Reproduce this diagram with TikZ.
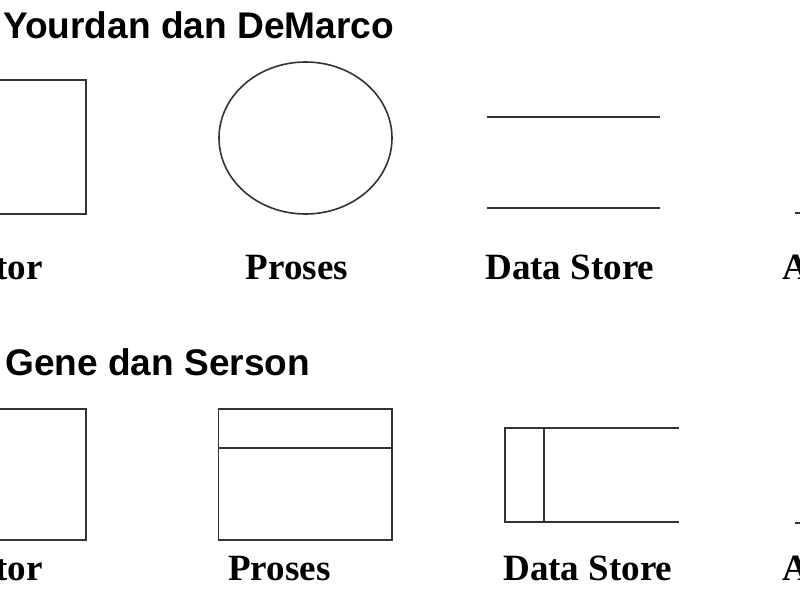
\documentclass[tikz,border=0pt]{standalone}
\usepackage{fontspec}
\setmainfont{Liberation Serif}
\newfontfamily\titlefont{Liberation Sans}
\usetikzlibrary{shapes.geometric}
\tikzset{
  shape line/.style={draw=black!80, line width=1.2pt},
  title/.style={font=\titlefont\bfseries\fontsize{27.8}{32}\selectfont, inner sep=0pt, anchor=base west},
  label text/.style={font=\bfseries\fontsize{27.8}{32}\selectfont, inner sep=0pt},
}
\begin{document}
\begin{tikzpicture}[x=0.75pt,y=-0.75pt]
\useasboundingbox (0,0) rectangle (800,600);
\clip (0,0) rectangle (800,600);
\fill[white] (0,0) rectangle (800,600);

% --- Yourdan dan DeMarco ---
\node[title] (t1) at (3,38) {Yourdan dan DeMarco};
\draw[shape line] (-60,80) rectangle (86,214);
\node[label text, anchor=base east] (term1) at (43,279) {Terminator};
\draw[shape line] (305.5,138) ellipse [x radius=86.5, y radius=76];
\node[label text, anchor=base west] (proc1) at (245.5,279) {Proses};
\draw[shape line] (487,117) -- (660,117);
\draw[shape line] (487,208) -- (660,208);
\node[label text, anchor=base west] (ds1) at (485,279) {Data Store};
\coordinate (a1s) at (795,213);
\coordinate (a1e) at (960,213);
\draw[shape line,->] (a1s) -- (a1e);
\node[label text, anchor=base west] (arus1) at (782,279) {Arus Data};

% --- Gene dan Serson ---
\node[title] (t2) at (5,375) {Gene dan Serson};
\draw[shape line] (-60,409) rectangle (86,540);
\node[label text, anchor=base east] (term2) at (43,580) {Terminator};
\draw[shape line] (218.5,409) rectangle (392,540);
\draw[shape line] (218.5,448) -- (392,448);
\node[label text, anchor=base west] (proc2) at (228,580) {Proses};
\draw[shape line] (679,428) -- (505,428) -- (505,522) -- (679,522);
\draw[shape line] (544,428) -- (544,522);
\node[label text, anchor=base west] (ds2) at (503,580) {Data Store};
\coordinate (a2s) at (795,523);
\coordinate (a2e) at (960,523);
\draw[shape line,->] (a2s) -- (a2e);
\node[label text, anchor=base west] (arus2) at (782,580) {Arus Data};
\end{tikzpicture}
\end{document}
